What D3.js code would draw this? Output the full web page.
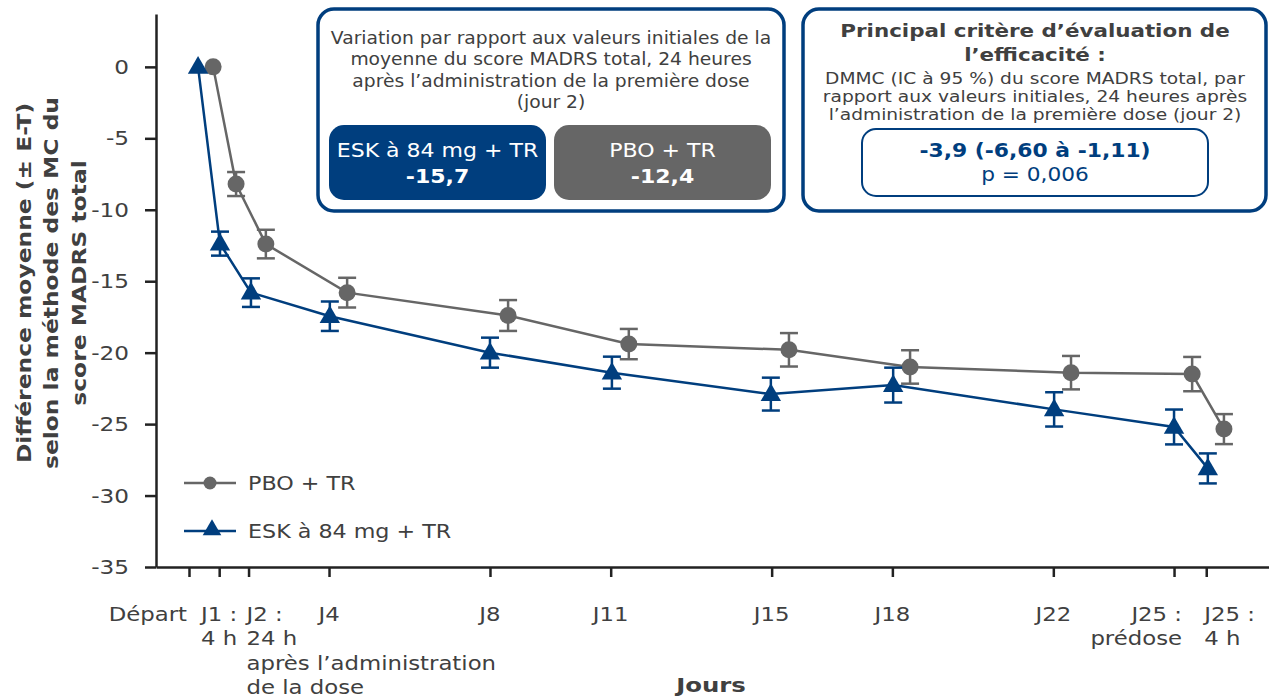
<!DOCTYPE html>
<html>
<head>
<meta charset="utf-8">
<script src="https://cdn.jsdelivr.net/npm/d3@7"></script>
<style>
  body { margin: 0; background: #fff; }
  svg { display: block; font-family: "DejaVu Sans", Verdana, sans-serif; }
</style>
</head>
<body>
<svg id="chart" width="1269" height="697"></svg>
<script>
// Change from baseline in MADRS total score, PBO + TR vs ESK 84 mg + TR

const tickDays = [0.52, 1.27, 2, 4, 8, 11, 15, 18, 22, 25, 25.8];
const tickLabels = [
  ['Départ'],
  ['J1 :', '4 h'],
  ['J2 :', '24 h', 'après l’administration', 'de la dose'],
  ['J4'], ['J8'], ['J11'], ['J15'], ['J18'], ['J22'],
  ['J25 :', 'prédose'],
  ['J25 :', '4 h']
];
const tickAlign = ['end', 'middle', 'start', 'middle', 'middle', 'middle', 'middle', 'middle', 'middle', 'end', 'start'];
const yTicks = [0, -5, -10, -15, -20, -25, -30, -35];

// x positions (in day units) where each series' points sit
const pboDay = [1.12, 1.69, 2.43, 4.45, 8.45, 11.45, 15.43, 18.44, 22.44, 25.45, 26.24];
const pboMean = [0, -8.2, -12.4, -15.8, -17.4, -19.4, -19.8, -21.0, -21.4, -21.5, -25.35];
const pboSE = [0, 0.84, 1.0, 1.04, 1.08, 1.06, 1.17, 1.17, 1.17, 1.2, 1.05];

const eskDay = [0.745, 1.29, 2.06, 4.02, 8.0, 11.03, 14.98, 18.02, 22.02, 25.0, 25.84];
const eskMean = [0, -12.37, -15.8, -17.45, -20.0, -21.4, -22.9, -22.27, -23.97, -25.2, -28.1];
const eskSE = [0, 0.84, 1.0, 1.03, 1.05, 1.12, 1.15, 1.22, 1.2, 1.22, 1.05];

const NAVY = '#003E7E', GRAY = '#666666', TEXT = '#404040';

const svg = d3.select('#chart');
const x = d3.scaleLinear().domain([-0.3, 27.36]).range([156, 1269]);
const y = d3.scaleLinear().domain([-35, 3.7]).range([567, 14]);

// the source font runs wider than DejaVu, so texts get a slight horizontal stretch
function label(parent, px, py, lines, o) {
  const t = parent.append('text')
    .attr('transform', `translate(${px},${py}) ${o.rotate ? 'rotate(-90) ' : ''}scale(${o.sx || 1.17},1)`)
    .attr('text-anchor', o.anchor || 'middle')
    .attr('font-size', o.size)
    .attr('font-weight', o.weight || 'normal')
    .attr('fill', o.fill || TEXT);
  lines.forEach((s, j) => {
    t.append('tspan').attr('x', 0).attr('dy', j === 0 ? (o.dy0 || 0) : o.lh).text(s);
  });
  return t;
}

// Axes
const yAxis = svg.append('g')
  .attr('transform', `translate(${x(-0.3)},0)`)
  .call(d3.axisLeft(y).tickValues(yTicks).tickSize(11).tickFormat(d => String(d)).tickSizeOuter(0));
yAxis.select('.domain').attr('stroke', '#222').attr('stroke-width', 2.5);
yAxis.selectAll('.tick line').attr('stroke', '#222').attr('stroke-width', 2.5);
yAxis.selectAll('.tick text')
  .attr('font-size', 19).attr('fill', TEXT).attr('font-family', 'DejaVu Sans')
  .attr('x', 0).attr('dy', '0.35em')
  .attr('transform', 'translate(-27,0) scale(1.22,1)');

const xAxis = svg.append('g')
  .attr('transform', `translate(0,${y(-35)})`)
  .call(d3.axisBottom(x).tickValues(tickDays).tickSize(10).tickFormat('').tickSizeOuter(0));
xAxis.select('.domain').attr('stroke', '#222').attr('stroke-width', 2.5);
xAxis.selectAll('.tick line').attr('stroke', '#222').attr('stroke-width', 2.5);

// X tick labels (multi-line)
const xLab = svg.append('g');
tickDays.forEach((d, i) => {
  const anchor = tickAlign[i];
  const dx = anchor === 'end' ? (i === 0 ? -2 : 8) : anchor === 'start' ? -2 : 0;
  label(xLab, x(d) + dx, 621, tickLabels[i], { anchor, size: 19, lh: 24.3, sx: 1.2 });
});

label(svg, 711, 692, ['Jours'], { size: 20, weight: 'bold', sx: 1.22 });

// Y title
label(svg, 24, 283, ['Différence moyenne (± E-T)', 'selon la méthode des MC du', 'score MADRS total'],
  { rotate: true, size: 20, weight: 'bold', lh: 27.5, dy0: '0.35em', sx: 1.17 });

// Series
const series = [
  { name: 'PBO + TR', day: pboDay, mean: pboMean, se: pboSE, color: GRAY, shape: 'circle' },
  { name: 'ESK à 84 mg + TR', day: eskDay, mean: eskMean, se: eskSE, color: NAVY, shape: 'triangle' }
];

const lineGen = d3.line().x(d => x(d.day)).y(d => y(d.mean));
const triangle = d3.symbol().type(d3.symbolTriangle);

series.forEach(s => {
  const pts = s.mean.map((m, i) => ({ day: s.day[i], mean: m, se: s.se[i] }));
  const g = svg.append('g');

  g.append('path')
    .datum(pts)
    .attr('d', lineGen)
    .attr('fill', 'none')
    .attr('stroke', s.color)
    .attr('stroke-width', 2.5);

  // error bars
  const eb = g.append('g').attr('stroke', s.color).attr('stroke-width', 2.5);
  pts.filter(p => p.se > 0).forEach(p => {
    const cx = x(p.day);
    eb.append('line').attr('x1', cx).attr('x2', cx).attr('y1', y(p.mean + p.se)).attr('y2', y(p.mean - p.se));
    eb.append('line').attr('x1', cx - 9).attr('x2', cx + 9).attr('y1', y(p.mean + p.se)).attr('y2', y(p.mean + p.se));
    eb.append('line').attr('x1', cx - 9).attr('x2', cx + 9).attr('y1', y(p.mean - p.se)).attr('y2', y(p.mean - p.se));
  });

  if (s.shape === 'circle') {
    g.selectAll('circle').data(pts).join('circle')
      .attr('cx', d => x(d.day)).attr('cy', d => y(d.mean))
      .attr('r', 8.5).attr('fill', s.color);
  } else {
    g.selectAll('path.mk').data(pts).join('path')
      .attr('class', 'mk')
      .attr('transform', d => `translate(${x(d.day)},${y(d.mean) + 1})`)
      .attr('d', triangle.size(180)())
      .attr('fill', s.color);
  }
});

// Legend
const legend = svg.append('g');
series.forEach((s, i) => {
  const ly = 483 + i * 48;
  const lg = legend.append('g').attr('transform', `translate(184,${ly})`);
  lg.append('line').attr('x1', 0).attr('x2', 52).attr('stroke', s.color).attr('stroke-width', 2.5);
  if (s.shape === 'circle') {
    lg.append('circle').attr('cx', 26).attr('r', 6.5).attr('fill', s.color);
  } else {
    lg.append('path').attr('transform', 'translate(28,-1)').attr('d', triangle.size(150)()).attr('fill', s.color);
  }
  label(lg, 64, 0, [s.name], { anchor: 'start', size: 19, dy0: '0.35em', sx: 1.17 });
});

// Box 1: day-2 change from baseline
const b1 = svg.append('g');
b1.append('rect').attr('x', 318).attr('y', 9).attr('width', 466).attr('height', 202).attr('rx', 16)
  .attr('fill', '#fff').attr('stroke', NAVY).attr('stroke-width', 3.5);
label(b1, 551, 44, ['Variation par rapport aux valeurs initiales de la', 'moyenne du score MADRS total, 24 heures',
  'après l’administration de la première dose', '(jour 2)'], { size: 17, lh: 21.4, sx: 1.1 });
const pills = [
  { label: 'ESK à 84 mg + TR', value: '-15,7', fill: NAVY, x0: 329 },
  { label: 'PBO + TR', value: '-12,4', fill: GRAY, x0: 554 }
];
pills.forEach(p => {
  b1.append('rect').attr('x', p.x0).attr('y', 125).attr('width', 217).attr('height', 75).attr('rx', 15).attr('fill', p.fill);
  label(b1, p.x0 + 108.5, 157, [p.label], { size: 19, fill: '#fff', sx: 1.16 });
  label(b1, p.x0 + 108.5, 183, [p.value], { size: 19, weight: 'bold', fill: '#fff', sx: 1.16 });
});

// Box 2: primary endpoint
const b2 = svg.append('g');
b2.append('rect').attr('x', 803).attr('y', 9).attr('width', 463).attr('height', 202).attr('rx', 16)
  .attr('fill', '#fff').attr('stroke', NAVY).attr('stroke-width', 3.5);
label(b2, 1035, 37, ['Principal critère d’évaluation de', 'l’efficacité :'],
  { size: 18, weight: 'bold', lh: 24.5, sx: 1.19 });
label(b2, 1035, 84, ['DMMC (IC à 95 %) du score MADRS total, par', 'rapport aux valeurs initiales, 24 heures après',
  'l’administration de la première dose (jour 2)'], { size: 16.5, lh: 17.8, sx: 1.13 });
b2.append('rect').attr('x', 862).attr('y', 129).attr('width', 346).attr('height', 67).attr('rx', 14)
  .attr('fill', '#fff').attr('stroke', NAVY).attr('stroke-width', 2);
label(b2, 1035, 157, ['-3,9 (-6,60 à -1,11)'], { size: 19, weight: 'bold', fill: NAVY, sx: 1.15 });
label(b2, 1035, 181, ['p = 0,006'], { size: 19, fill: NAVY, sx: 1.14 });
</script>
</body>
</html>
